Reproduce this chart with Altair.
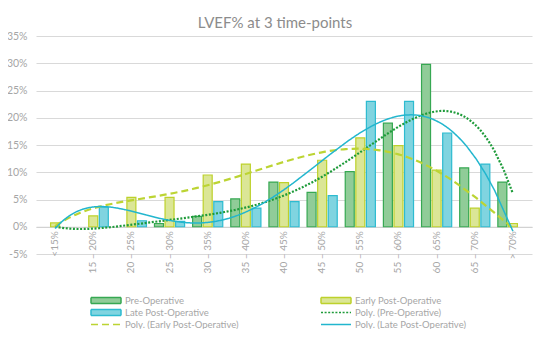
import altair as alt
import pandas as pd

categories = ["<15%", "15 – 20%", "20 – 25%", "25 – 30%", "30 – 35%", "35 – 40%",
              "40 – 45%", "45 – 50%", "50 – 55%", "55 – 60%", "60 – 65%", "65 – 70%", "> 70%"]
series = ["Pre-Operative", "Early Post-Operative", "Late Post-Operative"]
pre = [0, 0, 0, 0.6, 1.9, 5.1, 8.2, 6.3, 10.1, 19.0, 29.8, 10.8, 8.2]
early = [0.7, 2.0, 5.4, 5.4, 9.5, 11.5, 8.1, 12.2, 16.3, 14.9, 10.4, 3.4, 0.6]
late = [0, 3.6, 1.1, 1.0, 4.6, 3.4, 4.6, 5.7, 23.0, 23.0, 17.2, 11.5, 0]
y_ticks = [-5, 0, 5, 10, 15, 20, 25, 30, 35]

polys = ["Poly. (" + s + ")" for s in series]
all_names = series + polys
bar_fills = ["#90cc98", "#dbe696", "#80d4e0"]
bar_strokes = ["#36a852", "#bdd12b", "#2dbbd0"]
line_strokes = ["#1e9b3a", "#bcd433", "#22b6ce"]
line_dashes = [[2, 1.6], [7, 4], [1, 0]]
rect_path = "M-1,-0.2H1V0.2H-1Z"
line_path = "M-1,0H1"

rows = []
for i, c in enumerate(categories):
    for s, vals in zip(series, [pre, early, late]):
        rows.append({"cat": c, "idx": i + 1, "series": s, "value": vals[i]})
df = pd.DataFrame(rows)
legend_df = pd.DataFrame({"name": all_names})

font = "Lato"
txt = "#a6a6a6"

legend = alt.Legend(
    title=None, orient="none", legendX=54, legendY=259.5, columns=2, direction="horizontal",
    columnPadding=81, rowPadding=2, clipHeight=10, symbolSize=900,
    symbolStrokeWidth=1.5, symbolOffset=0, labelOffset=3, padding=0,
    labelFont=font, labelFontSize=9.5, labelColor=txt,
    symbolFillColor="transparent", symbolStrokeColor="#000000", symbolOpacity=1,
)

fill_scale = alt.Scale(domain=all_names, range=bar_fills + ["transparent"] * 3)
stroke_scale = alt.Scale(domain=all_names, range=bar_strokes + line_strokes)
dash_scale = alt.Scale(domain=all_names, range=[[1, 0]] * 3 + line_dashes)
shape_scale = alt.Scale(domain=all_names, range=[rect_path] * 3 + [line_path] * 3)

y_axis = alt.Axis(values=y_ticks, labelExpr="datum.value + '%'", title=None,
                  grid=True, gridColor="#d9d9d9", domain=False, ticks=False,
                  labelOverlap=False, labelPadding=9, labelFont=font, labelFontSize=10.5,
                  labelColor=txt)
y_enc = alt.Y("value:Q", scale=alt.Scale(domain=[-5, 35], nice=False), axis=y_axis)

bars = alt.Chart(df).transform_filter("datum.value > 0").transform_calculate(
    name="datum.series"
).mark_bar(strokeWidth=1.2).encode(
    x=alt.X("cat:N", sort=categories,
            scale=alt.Scale(domain=categories, paddingInner=0.21, paddingOuter=0.105),
            axis=alt.Axis(title=None, labelAngle=-90, offset=-27.25, domain=True,
                          domainColor="#d0d0d0", ticks=False, grid=False, labelPadding=4,
                          labelFont=font, labelFontSize=10, labelColor=txt)),
    xOffset=alt.XOffset("series:N", sort=series,
                        scale=alt.Scale(domain=series, paddingInner=0.15, paddingOuter=0)),
    y=y_enc,
    fill=alt.Fill("name:N", scale=fill_scale, legend=legend),
    stroke=alt.Stroke("name:N", scale=stroke_scale, legend=legend),
)

lines = alt.Chart(df).transform_regression(
    "idx", "value", groupby=["series"], method="poly", order=5, extent=[1, 13]
).transform_calculate(
    name="'Poly. (' + datum.series + ')'"
).mark_line(strokeCap="butt").encode(
    x=alt.X("idx:Q", scale=alt.Scale(domain=[0.5, 13.5], nice=False, zero=False), axis=None),
    y=y_enc,
    stroke=alt.Stroke("name:N", scale=stroke_scale, legend=legend),
    strokeDash=alt.StrokeDash("name:N", scale=dash_scale, legend=legend),
    strokeWidth=alt.condition("datum.name === 'Poly. (Late Post-Operative)'",
                              alt.value(1.5), alt.value(2.2)),
)

legend_layer = alt.Chart(legend_df).mark_point(opacity=0, filled=True, clip=True).encode(
    x=alt.value(0), y=alt.value(0),
    shape=alt.Shape("name:N", scale=shape_scale, legend=legend),
    fill=alt.Fill("name:N", scale=fill_scale, legend=legend),
    stroke=alt.Stroke("name:N", scale=stroke_scale, legend=legend),
    strokeDash=alt.StrokeDash("name:N", scale=dash_scale, legend=legend),
)

chart = alt.layer(bars, lines, legend_layer).resolve_scale(x="independent").properties(
    width=496, height=218,
    autosize=alt.AutoSizeParams(type="none"),
    padding={"left": 28, "top": 28, "right": 10, "bottom": 75},
    background="white",
    title=alt.TitleParams("LVEF% at 3 time-points", font=font, fontSize=15,
                          fontWeight="normal", color="#8c8c8c", anchor="middle",
                          dx=-9, dy=4, offset=4),
).configure_view(stroke=None)

chart.save("out.html", embed_options={"renderer": "svg", "actions": False})
